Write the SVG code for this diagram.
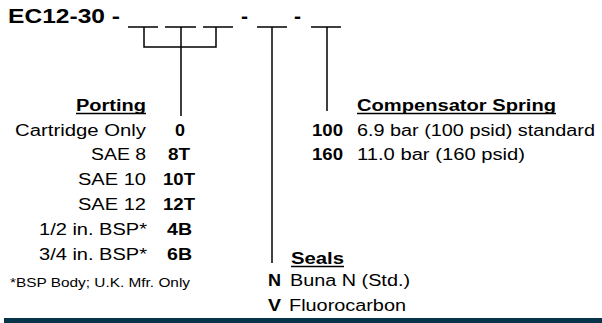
<svg xmlns="http://www.w3.org/2000/svg" width="602" height="323" viewBox="0 0 602 323">
<style>
.t{font-family:"Liberation Sans",Arial,sans-serif;font-size:16px;fill:#000}
.b{font-weight:bold}
.ln{stroke:#000;stroke-width:1.5;fill:none}
.ul{stroke:#000;stroke-width:1.3}
</style>
<rect width="602" height="323" fill="#fff"/>
<g id="title">
<text class="t b" x="8" y="23" style="font-size:21px" textLength="112" lengthAdjust="spacingAndGlyphs">EC12-30 -</text>
<text class="t b" x="241" y="23" style="font-size:21px">-</text>
<text class="t b" x="294" y="23" style="font-size:21px">-</text>
</g>
<g id="connectors" class="ln">
<path d="M128 27H158M165 27H196M203 27H233M257 27H287M311 27H341"/>
<path d="M144 27V47H216V27M181 27V116"/>
<path d="M272 27V263"/>
<path d="M327 27V111"/>
</g>
<g id="porting">
<text class="t b" x="76" y="111" textLength="70" lengthAdjust="spacingAndGlyphs">Porting</text>
<line class="ul" x1="76" y1="113.5" x2="146" y2="113.5"/>
<text class="t" x="15" y="136" textLength="131" lengthAdjust="spacingAndGlyphs">Cartridge Only</text>
<text class="t" x="91" y="160" textLength="55" lengthAdjust="spacingAndGlyphs">SAE 8</text>
<text class="t" x="78" y="185" textLength="68" lengthAdjust="spacingAndGlyphs">SAE 10</text>
<text class="t" x="78" y="210" textLength="68" lengthAdjust="spacingAndGlyphs">SAE 12</text>
<text class="t" x="39" y="235" textLength="108" lengthAdjust="spacingAndGlyphs">1/2 in. BSP*</text>
<text class="t" x="39" y="260" textLength="108" lengthAdjust="spacingAndGlyphs">3/4 in. BSP*</text>
<text class="t b" x="175" y="136" textLength="10" lengthAdjust="spacingAndGlyphs">0</text>
<text class="t b" x="168" y="160" textLength="22" lengthAdjust="spacingAndGlyphs">8T</text>
<text class="t b" x="163" y="185" textLength="32" lengthAdjust="spacingAndGlyphs">10T</text>
<text class="t b" x="163" y="210" textLength="32" lengthAdjust="spacingAndGlyphs">12T</text>
<text class="t b" x="167" y="235" textLength="25" lengthAdjust="spacingAndGlyphs">4B</text>
<text class="t b" x="167" y="260" textLength="25" lengthAdjust="spacingAndGlyphs">6B</text>
<text class="t" x="10" y="287" style="font-size:12.5px" textLength="180" lengthAdjust="spacingAndGlyphs">*BSP Body; U.K. Mfr. Only</text>
</g>
<g id="compensator">
<text class="t b" x="357" y="111" textLength="199" lengthAdjust="spacingAndGlyphs">Compensator Spring</text>
<line class="ul" x1="357" y1="113.5" x2="556" y2="113.5"/>
<text class="t b" x="312" y="136" textLength="31" lengthAdjust="spacingAndGlyphs">100</text>
<text class="t" x="357" y="136" textLength="238" lengthAdjust="spacingAndGlyphs">6.9 bar (100 psid) standard</text>
<text class="t b" x="312" y="160" textLength="31" lengthAdjust="spacingAndGlyphs">160</text>
<text class="t" x="357" y="160" textLength="168" lengthAdjust="spacingAndGlyphs">11.0 bar (160 psid)</text>
</g>
<g id="seals">
<text class="t b" x="291" y="264" textLength="53" lengthAdjust="spacingAndGlyphs">Seals</text>
<line class="ul" x1="291" y1="266.5" x2="344" y2="266.5"/>
<text class="t b" x="268" y="286" textLength="13" lengthAdjust="spacingAndGlyphs">N</text>
<text class="t" x="290" y="286" textLength="120" lengthAdjust="spacingAndGlyphs">Buna N (Std.)</text>
<text class="t b" x="268" y="311" textLength="13" lengthAdjust="spacingAndGlyphs">V</text>
<text class="t" x="289" y="311" textLength="117" lengthAdjust="spacingAndGlyphs">Fluorocarbon</text>
</g>
<rect x="4" y="318" width="598" height="5" fill="#08344a"/>
</svg>
